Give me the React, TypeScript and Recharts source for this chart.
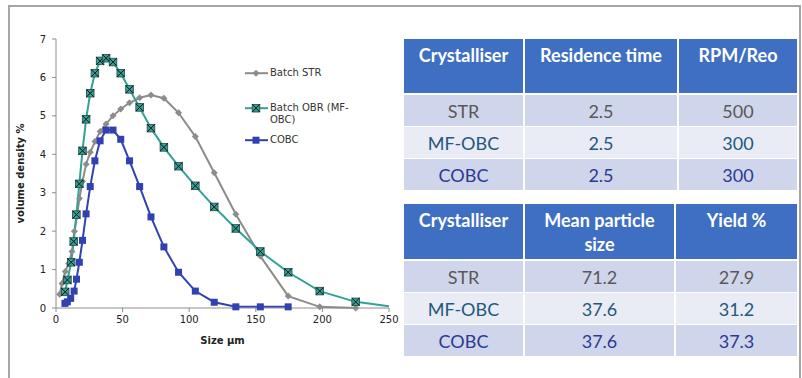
import { LineChart, Line, XAxis, YAxis, Label } from 'recharts'

// particle size (µm) and volume density (%)
const strSize = [2.7, 4.5, 7.0, 9.5, 12.0, 13.8, 15.7, 17.6, 19.9, 22.6, 25.7, 29.2, 33.1, 37.6, 42.8, 48.6, 55.2, 62.8, 71.3, 81.0, 92.0, 104.6, 118.8, 135.0, 153.4, 174.3, 198.0, 225.0]
const strVol = [0.36, 0.64, 0.95, 1.16, 1.47, 2.0, 2.38, 2.85, 3.3, 3.74, 4.05, 4.33, 4.59, 4.79, 5.0, 5.18, 5.34, 5.47, 5.54, 5.46, 5.08, 4.46, 3.52, 2.44, 1.35, 0.31, 0.03, 0.0]

const obrSize = [6.9, 8.6, 11.4, 13.3, 15.3, 17.5, 19.9, 22.6, 25.7, 29.2, 33.1, 37.6, 42.8, 48.6, 55.2, 62.8, 71.3, 81.0, 92.0, 104.6, 118.8, 135.0, 153.4, 174.3, 198.0, 225.0, 255.6]
const obrVol = [0.42, 0.73, 1.19, 1.73, 2.43, 3.23, 4.09, 4.91, 5.59, 6.11, 6.43, 6.5, 6.4, 6.11, 5.69, 5.22, 4.68, 4.18, 3.69, 3.18, 2.63, 2.07, 1.47, 0.93, 0.44, 0.16, 0.02]

const cobcSize = [6.7, 8.5, 11.0, 13.6, 15.4, 17.5, 19.9, 22.6, 25.7, 29.2, 33.1, 37.6, 42.8, 48.6, 55.2, 62.8, 71.3, 81.0, 92.0, 104.6, 118.8, 135.0, 153.4, 174.3]
const cobcVol = [0.12, 0.16, 0.25, 0.44, 0.75, 1.19, 1.76, 2.45, 3.16, 3.83, 4.35, 4.63, 4.63, 4.39, 3.83, 3.16, 2.37, 1.59, 0.93, 0.44, 0.15, 0.03, 0.03, 0.03]

const xTicks = [0, 50, 100, 150, 200, 250]
const yTicks = [0, 1, 2, 3, 4, 5, 6, 7]

const table1Head = ['Crystalliser', 'Residence time', 'RPM/Reo']
const table1Rows = [
  ['STR', '2.5', '500'],
  ['MF-OBC', '2.5', '300'],
  ['COBC', '2.5', '300'],
]
const table2Head = ['Crystalliser', 'Mean particle size', 'Yield %']
const table2Rows = [
  ['STR', '71.2', '27.9'],
  ['MF-OBC', '37.6', '31.2'],
  ['COBC', '37.6', '37.3'],
]

const GRAY = '#8c8c8c'
const TEAL = '#35a096'
const BLUE = '#3141b0'
const rowText = ['#595959', '#22597c', '#2c3a92']
const rowBg = ['#cfd5ea', '#e9ebf5', '#cfd5ea']

const toPoints = (xs: number[], ys: number[]) => xs.map((size, i) => ({ size, value: ys[i] }))

function Diamond(cx: number, cy: number, key?: any) {
  return <path key={key} d={`M${cx},${cy - 3.5}L${cx + 3.5},${cy}L${cx},${cy + 3.5}L${cx - 3.5},${cy}Z`} fill={GRAY} />
}
function CrossBox(cx: number, cy: number, key?: any) {
  return (
    <g key={key}>
      <rect x={cx - 3.8} y={cy - 3.8} width={7.6} height={7.6} fill={TEAL} stroke="#1d4a45" strokeWidth={0.8} />
      <path d={`M${cx - 3.8},${cy - 3.8}L${cx + 3.8},${cy + 3.8}M${cx + 3.8},${cy - 3.8}L${cx - 3.8},${cy + 3.8}`} stroke="#111" strokeWidth={1} />
    </g>
  )
}
function Square(cx: number, cy: number, key?: any) {
  return <rect key={key} x={cx - 3.5} y={cy - 3.5} width={7} height={7} fill={BLUE} />
}

const series = [
  { name: 'Batch STR', data: toPoints(strSize, strVol), color: GRAY, marker: Diamond },
  { name: 'Batch OBR (MF-OBC)', data: toPoints(obrSize, obrVol), color: TEAL, marker: CrossBox },
  { name: 'COBC', data: toPoints(cobcSize, cobcVol), color: BLUE, marker: Square },
]

const legendTops = [0, 35, 67]

function ChartLegend() {
  return (
    <div style={{ position: 'absolute', left: 243, top: 67, width: 130, height: 90, fontFamily: 'DejaVu Sans', fontSize: 10, color: '#333', lineHeight: '12.4px' }}>
      {series.map((s, i) => (
        <div key={s.name} style={{ position: 'absolute', left: 0, top: legendTops[i], display: 'flex', alignItems: 'flex-start' }}>
          <svg width={27} height={12} style={{ display: 'block' }}>
            <line x1={2} y1={6.2} x2={25} y2={6.2} stroke={s.color} strokeWidth={2} />
            {s.marker(13, 6.2)}
          </svg>
          <div style={{ width: 84 }}>{s.name}</div>
        </div>
      ))}
    </div>
  )
}

function DataTable({ head, rows, widths, top, headH }: { head: string[]; rows: string[][]; widths: number[]; top: number; headH: number }) {
  return (
    <div style={{ position: 'absolute', left: 404, top, width: 393, fontFamily: 'Lato', background: '#fff' }}>
      <div style={{ display: 'flex', gap: 2, height: headH }}>
        {head.map((h, i) => (
          <div key={i} style={{ width: widths[i], background: '#3f6fc2', color: '#fff', fontWeight: 700, fontSize: 18, lineHeight: '24px', textAlign: 'center', padding: '4px 14px 0', boxSizing: 'border-box' }}>{h}</div>
        ))}
      </div>
      {rows.map((r, ri) => (
        <div key={ri} style={{ display: 'flex', gap: 2, height: 31, marginTop: ri === 0 ? 2 : 1 }}>
          {r.map((c, ci) => (
            <div key={ci} style={{ width: widths[ci], background: rowBg[ri], color: rowText[ri], fontSize: 18, lineHeight: '33px', textAlign: 'center' }}>{c}</div>
          ))}
        </div>
      ))}
    </div>
  )
}

export default function App() {
  const tick = { fontSize: 10, fill: '#222', fontFamily: 'DejaVu Sans' }
  return (
    <div style={{ position: 'absolute', left: 0, top: 0, width: 802, height: 378, background: '#fff', overflow: 'hidden' }}>
      <div style={{ position: 'absolute', left: 8, top: 5, width: 793, height: 420, border: '2px solid #a5a5a5', boxSizing: 'border-box' }} />
      <div style={{ position: 'absolute', left: 0, top: 0 }}>
        <LineChart width={400} height={350} margin={{ top: 39, right: 11, bottom: 12, left: 0 }}>
          <XAxis
            type="number"
            dataKey="size"
            domain={[0, 250]}
            ticks={xTicks}
            allowDataOverflow
            height={30}
            tick={tick}
            tickSize={4}
            tickMargin={4}
            stroke={GRAY}
          >
            <Label value="Size µm" position="bottom" offset={-1} style={{ fontFamily: 'DejaVu Sans', fontSize: 10, fontWeight: 700, fill: '#222' }} />
          </XAxis>
          <YAxis
            type="number"
            domain={[0, 7]}
            ticks={yTicks}
            width={56}
            tick={tick}
            tickSize={4}
            tickMargin={6}
            stroke={GRAY}
          >
            <Label value="volume density %" angle={-90} position="insideLeft" offset={20} style={{ textAnchor: 'middle', fontFamily: 'DejaVu Sans', fontSize: 10, fontWeight: 700, fill: '#222' }} />
          </YAxis>
          {series.map(s => (
            <Line
              key={s.name}
              name={s.name}
              data={s.data}
              dataKey="value"
              type="linear"
              stroke={s.color}
              strokeWidth={2}
              isAnimationActive={false}
              dot={(p: any) => s.marker(p.cx, p.cy, `${s.name}-${p.index}`)}
            />
          ))}
        </LineChart>
      </div>
      <ChartLegend />
      <DataTable head={table1Head} rows={table1Rows} widths={[119, 152, 118]} top={39} headH={54} />
      <DataTable head={table2Head} rows={table2Rows} widths={[119, 149, 121]} top={204} headH={55} />
    </div>
  )
}
